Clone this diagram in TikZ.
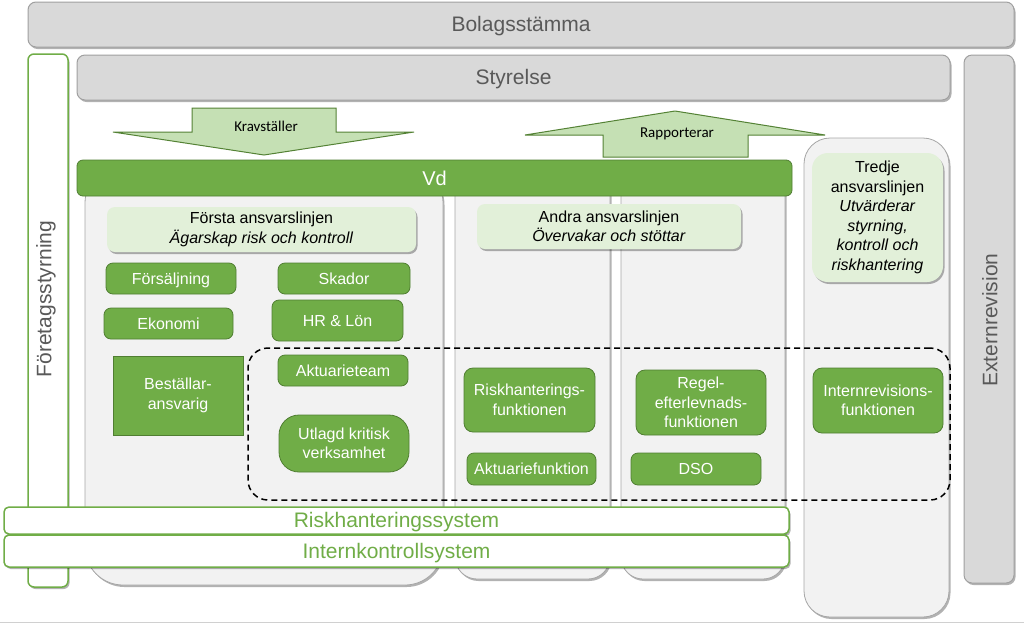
\documentclass[tikz,border=0pt]{standalone}
\usepackage{fontspec}
\setmainfont{Liberation Sans}
\newfontfamily\calfont{Carlito}
\usetikzlibrary{shadows}
\definecolor{gfill}{HTML}{D9D9D9}
\definecolor{gline}{HTML}{A0A0A0}
\definecolor{gtext}{HTML}{595959}
\definecolor{greenA}{HTML}{70AD47}
\definecolor{greenB}{HTML}{507E32}
\definecolor{lgreen}{HTML}{E2F0D9}
\definecolor{agreen}{HTML}{C5E0B4}
\definecolor{aline}{HTML}{548235}
\definecolor{colfill}{HTML}{F2F2F2}
\definecolor{colline}{HTML}{A6A6A6}
\definecolor{footline}{HTML}{D0D0D0}
\tikzset{
 shadowed/.style={drop shadow={shadow xshift=1.5pt, shadow yshift=-2pt, opacity=0.3, fill=black}},
 onebig/.style={text height=18.9pt, text depth=4.2pt},
 onemid/.style={text height=14.4pt, text depth=3.2pt},
 graybox/.style={draw=gline, fill=gfill, rounded corners=8pt, line width=1pt, text=gtext, font=\fontsize{21}{25}\selectfont, inner sep=0pt, shadowed},
 colbox/.style={draw=colline, fill=colfill, line width=0.8pt, shadowed},
 hdr/.style={fill=lgreen, draw=none, rounded corners=8pt, font=\fontsize{16}{19.5}\selectfont, align=center, inner sep=0pt, shadowed},
 gbox/.style={fill=greenA, draw=greenB, line width=0.8pt, rounded corners=7pt, text=white, font=\fontsize{16}{19.5}\selectfont, align=center, inner sep=0pt},
 bar/.style={fill=white, draw=greenA, line width=1.5pt, rounded corners=5pt, text=greenA, font=\fontsize{21}{25}\selectfont, inner sep=0pt, shadowed, onebig},
 arrowshape/.style={fill=agreen, draw=aline, line width=1pt},
 arrowlabel/.style={font=\calfont\fontsize{15}{18}\selectfont, inner sep=0pt},
 dashbox/.style={draw=black, line width=1.5pt, dash pattern=on 6pt off 4pt, rounded corners=20pt, inner sep=0pt},
 vtext/.style={text=gtext, font=\fontsize{21}{25}\selectfont, rotate=90, inner sep=0pt, onebig},
}
\begin{document}
\begin{tikzpicture}[x=1pt,y=-1pt]
\useasboundingbox (0,0) rectangle (1024,625);
% bottom line
\coordinate (bl) at (0,622);
\coordinate (br) at (1024,622);
\draw[draw=footline, line width=1pt] (bl) -- (br);

% columns
\node[colbox, rounded corners=38pt, minimum width=358pt, minimum height=420pt] (col1) at (264,375) {};
\node[colbox, rounded corners=22pt, minimum width=155pt, minimum height=409pt] (col2) at (532.5,374.5) {};
\node[colbox, rounded corners=22pt, minimum width=164pt, minimum height=409pt] (col3) at (703,374.5) {};
\node[colbox, rounded corners=26pt, minimum width=145pt, minimum height=479pt] (col4) at (876.5,377.5) {};

% frame Foretagsstyrning
\node[draw=greenA, fill=white, line width=1.5pt, rounded corners=6pt, minimum width=40pt, minimum height=533pt, shadowed] (fsframe) at (48,320.5) {};
\node[vtext] (fstext) at (44,299) {Företagsstyrning};

% gray boxes
\node[graybox, onebig, minimum width=986pt, minimum height=45pt] (bol) at (521,24.5) {Bolagsstämma};
\node[graybox, onebig, minimum width=873pt, minimum height=45pt] (sty) at (513.5,77.5) {Styrelse};
\node[graybox, minimum width=50pt, minimum height=528pt] (ext) at (989,319) {};
\node[vtext] (exttext) at (990,320) {Externrevision};

% arrows
\draw[arrowshape] (192,108) -- (336,108) -- (336,132) -- (414,132) -- (264,155) -- (113,132) -- (192,132) -- cycle;
\node[arrowlabel] (krav) at (266,126) {Kravställer};
\draw[arrowshape] (675,111) -- (825,135) -- (748,135) -- (748,157) -- (603,157) -- (603,135) -- (525,135) -- cycle;
\node[arrowlabel] (rapp) at (677,134) {Rapporterar};

% Vd
\node[fill=greenA, draw=greenB, line width=0.8pt, rounded corners=6pt, minimum width=715pt, minimum height=36pt, text=white, font=\fontsize{20}{24}\selectfont, inner sep=0pt, text height=18pt, text depth=4pt] (vd) at (434.5,178) {Vd};

% headers
\node[hdr, minimum width=309pt, minimum height=45pt] (h1) at (261.5,229.5) {Första ansvarslinjen\\\textit{Ägarskap risk och kontroll}};
\node[hdr, minimum width=264pt, minimum height=45pt] (h2) at (609,226.5) {Andra ansvarslinjen\\\textit{Övervakar och stöttar}};
\node[hdr, rounded corners=16pt, minimum width=131pt, minimum height=129pt] (h3) at (877.5,217.5) {Tredje\\ansvarslinjen\\\textit{Utvärderar}\\\textit{styrning,}\\\textit{kontroll och}\\\textit{riskhantering}};

% green boxes
\node[gbox, onemid, minimum width=130pt, minimum height=31pt] (fors) at (171,278.5) {Försäljning};
\node[gbox, onemid, minimum width=132pt, minimum height=31pt] (skad) at (344,278.5) {Skador};
\node[gbox, onemid, minimum width=129pt, minimum height=31pt] (ekon) at (168.5,323.5) {Ekonomi};
\node[gbox, onemid, minimum width=131pt, minimum height=41pt] (hrl) at (337.5,320.5) {HR \& Lön};
\node[gbox, rounded corners=0pt, minimum width=130pt, minimum height=79pt] (best) at (178,395.5) {Beställar-\\ansvarig};
\node[gbox, onemid, minimum width=130pt, minimum height=31pt] (aktt) at (343,370.5) {Aktuarieteam};
\node[gbox, rounded corners=20pt, minimum width=130pt, minimum height=57pt] (utl) at (344,443.5) {Utlagd kritisk\\verksamhet};
\node[gbox, rounded corners=9pt, minimum width=131pt, minimum height=64pt] (riskf) at (529.5,400) {Riskhanterings-\\funktionen};
\node[gbox, onemid, minimum width=129pt, minimum height=32pt] (aktf) at (531.5,469) {Aktuariefunktion};
\node[gbox, rounded corners=9pt, minimum width=130pt, minimum height=65pt] (regel) at (701,402.5) {Regel-\\efterlevnads-\\funktionen};
\node[gbox, onemid, minimum width=130pt, minimum height=32pt] (dso) at (696,469) {DSO};
\node[gbox, rounded corners=9pt, minimum width=130pt, minimum height=65pt] (intr) at (878,400.5) {Internrevisions-\\funktionen};

% dashed group
\node[dashbox, minimum width=702pt, minimum height=152pt] (grp) at (599,424) {};

% bars
\node[bar, minimum width=785pt, minimum height=27pt] (rhs) at (396.5,520.5) {Riskhanteringssystem};
\node[bar, minimum width=785pt, minimum height=32pt] (iks) at (396.5,551) {Internkontrollsystem};
\end{tikzpicture}
\end{document}
